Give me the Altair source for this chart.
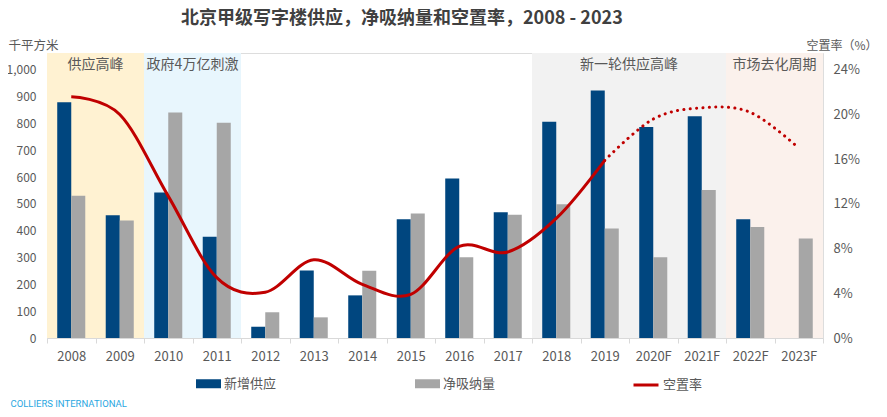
import altair as alt
import pandas as pd

# ---- data ----
years = ["2008", "2009", "2010", "2011", "2012", "2013", "2014", "2015",
         "2016", "2017", "2018", "2019", "2020F", "2021F", "2022F", "2023F"]
supply = [879, 458, 543, 378, 42, 252, 159, 443, 595, 469, 807, 923, 787, 827, 443, None]
absorption = [531, 438, 841, 803, 96, 77, 251, 464, 301, 460, 499, 408, 301, 552, 414, 371]
vacancy_pct = [21.6, 20.0, 12.7, 5.4, 4.1, 7.0, 4.8, 3.9, 8.2, 7.7, 10.7, 15.9, 19.6, 20.6, 20.2, 17.0]
forecast_from = "2019"

series_names = ["新增供应", "净吸纳量", "空置率"]
series_colors = ["#00467F", "#A6A6A6", "#C00000"]

region_labels = ["供应高峰", "政府4万亿刺激", "新一轮供应高峰", "市场去化周期"]
region_start = ["2008", "2010", "2018", "2022F"]
region_end = ["2009", "2011", "2021F", "2023F"]
region_label_at = ["2009", "2011", "2020F", "2023F"]
region_colors = ["#FFF2D2", "#E8F6FD", "#F2F2F2", "#FBF1EC"]

title_text = "北京甲级写字楼供应，净吸纳量和空置率，2008  - 2023"
left_title = "千平方米"
right_title = "空置率（%）"
source_text = "COLLIERS INTERNATIONAL"

# ---- tables ----
bars_rows = []
for y, s, a in zip(years, supply, absorption):
    if s is not None:
        bars_rows.append({"year": y, "series": series_names[0], "value": s})
    if a is not None:
        bars_rows.append({"year": y, "series": series_names[1], "value": a})
bars_df = pd.DataFrame(bars_rows)

vac_df = pd.DataFrame({"year": years, "v": [p / 100 for p in vacancy_pct],
                       "series": series_names[2]})
cut = years.index(forecast_from)
solid_df = vac_df.iloc[: cut + 1]
dotted_df = vac_df.iloc[cut:]

regions_df = pd.DataFrame({"label": region_labels, "start": region_start,
                           "end": region_end, "at": region_label_at})

FONT = "Noto Sans CJK SC"
LABEL_C = "#595959"

x_scale = alt.Scale(domain=years, paddingInner=0, paddingOuter=0)
x_axis = alt.Axis(
    title=source_text, titleX=-37, titleY=68.5, titleAlign="left",
    titleBaseline="alphabetic",
    titleFont="Roboto", titleFontSize=9.5, titleFontWeight="normal",
    titleColor="#2AA7DF",
    labelAngle=0, tickBand="extent", tickSize=5, domainColor="#D9D9D9",
    tickColor="#D9D9D9", labelPadding=7, labelFontSize=13, labelColor=LABEL_C,
    labelFont=FONT, grid=False,
)
yl_scale = alt.Scale(domain=[0, 1063], nice=False)
yl_axis = alt.Axis(
    values=list(range(0, 1001, 100)), format=",d", title=left_title, titleAngle=0,
    titleX=-39, titleY=-8, titleAlign="left", titleBaseline="middle",
    titleFont=FONT, titleFontSize=12.5, titleFontWeight="normal", titleColor=LABEL_C,
    domain=False, ticks=False, grid=False, labelPadding=11, labelFontSize=12,
    labelColor=LABEL_C, labelFont=FONT,
)
yr_scale = alt.Scale(domain=[0, 0.2551], nice=False)
yr_axis = alt.Axis(
    orient="right", values=[0, 0.04, 0.08, 0.12, 0.16, 0.20, 0.24], format=".0%",
    title=right_title, titleAngle=0, titleX=-17, titleY=-8, titleAlign="left",
    titleBaseline="middle", titleFont=FONT, titleFontSize=12, titleFontWeight="normal",
    titleColor=LABEL_C, domain=False, ticks=False, grid=False, labelPadding=10,
    labelFontSize=13, labelColor=LABEL_C, labelFont=FONT,
)

shade = alt.Chart(regions_df).mark_rect().encode(
    x=alt.X("start:N", bandPosition=0, scale=x_scale, axis=x_axis),
    x2=alt.X2("end", bandPosition=1),
    fill=alt.Fill("label:N", scale=alt.Scale(domain=region_labels, range=region_colors),
                  legend=None),
)

region_text = alt.Chart(regions_df).mark_text(
    font=FONT, fontSize=14, color=LABEL_C, baseline="middle", align="center"
).encode(
    x=alt.X("at:N", bandPosition=0, scale=x_scale, axis=x_axis),
    y=alt.Y(datum=1018, type="quantitative", scale=yl_scale, axis=yl_axis),
    text="label:N",
)

bars = alt.Chart(bars_df).mark_bar().encode(
    x=alt.X("year:N", scale=x_scale, axis=x_axis),
    xOffset=alt.XOffset("series:N", scale=alt.Scale(domain=series_names[:2],
                                                      paddingInner=0, paddingOuter=0.73)),
    y=alt.Y("value:Q", scale=yl_scale, axis=yl_axis),
    color=alt.Color(
        "series:N",
        scale=alt.Scale(domain=series_names[:2], range=series_colors[:2]),
        legend=alt.Legend(
            title=None, orient="none", legendX=149, legendY=318, direction="horizontal",
            columns=2, columnPadding=138, symbolSize=625,
            symbolType="M-1,-0.36H1V0.36H-1Z",
            symbolStrokeWidth=0, labelFontSize=13, labelColor=LABEL_C, labelFont=FONT,
            labelOffset=3, padding=0,
        ),
    ),
)

left = alt.layer(shade, bars, region_text)

line_stroke = alt.Stroke(
    "series:N",
    scale=alt.Scale(domain=series_names[2:], range=series_colors[2:]),
    legend=alt.Legend(
        title=None, orient="none", legendX=585, legendY=318, direction="horizontal",
        symbolSize=625, symbolType="M-1,0H1", symbolStrokeWidth=3,
        labelFontSize=13, labelColor=LABEL_C, labelFont=FONT, labelOffset=3, padding=0,
    ),
)

solid = alt.Chart(solid_df).mark_line(
    strokeWidth=3, interpolate="cardinal"
).encode(
    x=alt.X("year:N", scale=x_scale, axis=x_axis),
    y=alt.Y("v:Q", scale=yr_scale, axis=yr_axis),
    stroke=line_stroke,
)
dotted = alt.Chart(dotted_df).mark_line(
    strokeWidth=3, interpolate="cardinal",
    strokeDash=[0.1, 6.3], strokeCap="round"
).encode(
    x=alt.X("year:N", scale=x_scale, axis=x_axis),
    y=alt.Y("v:Q", scale=yr_scale, axis=yr_axis),
    stroke=line_stroke,
)
right = alt.layer(solid, dotted)

chart = alt.layer(left, right).resolve_scale(y="independent").properties(
    width=776, height=285,
    autosize=alt.AutoSizeParams(type="none"),
    padding={"left": 39, "top": 45, "right": 56, "bottom": 71},
    title=alt.TitleParams(
        text=title_text, anchor="start", frame="group", dx=134, offset=14, dy=21,
        baseline="bottom", fontSize=18, fontWeight="bold", color="#404040", font=FONT,
    ),
).configure_view(stroke=None).configure(background="white")

chart.save("out.html", embed_options={"renderer": "svg", "actions": False})
